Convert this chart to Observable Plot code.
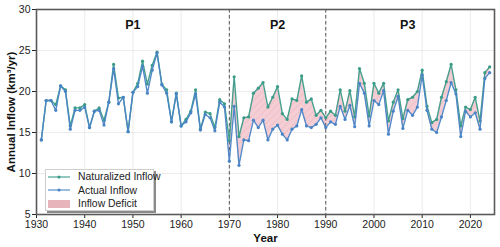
<!DOCTYPE html>
<html>
<head>
<meta charset="utf-8">
<script src="https://cdn.jsdelivr.net/npm/d3@7"></script>
<script src="https://cdn.jsdelivr.net/npm/@observablehq/plot@0.6"></script>
<style>
  html, body { margin: 0; padding: 0; background: #fff; }
  #wrap { position: relative; width: 500px; height: 247px; font-family: "Liberation Sans", Arial, sans-serif; }
  #legend {
    position: absolute; left: 45px; top: 169px; width: 109px; height: 42px;
    background: #fff; border: 1px solid #cfcfcf; box-shadow: 2px 2px 0 #8a8a8a;
    font-size: 10.4px; color: #222; box-sizing: border-box;
  }
  .row { position: absolute; left: 0; height: 13px; display: flex; align-items: center; }
  .row svg { margin-left: 2px; }
  .row span { margin-left: 8px; white-space: nowrap; }
</style>
</head>
<body>
<div id="wrap">
  <div id="chart"></div>
  <div id="legend">
    <div class="row" style="top:0px"><svg width="22" height="10"><line x1="0" y1="5" x2="22" y2="5" stroke="#3a9c88" stroke-width="1.3" stroke-opacity="0.85"/><circle cx="11" cy="5" r="1.6" fill="#3a9c88"/></svg><span>Naturalized Inflow</span></div>
    <div class="row" style="top:13.5px"><svg width="22" height="10"><line x1="0" y1="5" x2="22" y2="5" stroke="#4a84c6" stroke-width="1.3" stroke-opacity="0.85"/><circle cx="11" cy="5" r="1.6" fill="#4a84c6"/></svg><span>Actual Inflow</span></div>
    <div class="row" style="top:27px"><svg width="22" height="10"><rect x="0" y="1" width="22" height="8" fill="#e8b4bc"/></svg><span>Inflow Deficit</span></div>
  </div>
</div>
<script>
// Annual inflow record, 1931–2024 (km³/yr)
const years = d3.range(1931, 2025);

const naturalized = [
  14.1, 18.9, 18.9, 18.4, 20.7, 20.2, 15.8, 18.0, 18.0, 18.4, // 1931–1940
  15.6, 17.6, 18.0, 16.5, 18.7, 23.3, 19.2, 19.3, 15.1, 19.9, // 1941–1950
  21.0, 23.7, 20.9, 23.2, 24.8, 20.9, 20.2, 16.3, 19.8, 15.8, // 1951–1960
  16.6, 17.6, 20.2, 15.4, 17.5, 17.3, 15.6, 19.0, 18.5, 14.0, // 1961–1970
  21.8, 14.5, 16.8, 16.9, 19.8, 20.4, 21.1, 18.1, 19.3, 20.6, // 1971–1980
  17.3, 16.6, 19.1, 18.9, 21.9, 18.7, 19.1, 17.1, 17.7, 16.8, // 1981–1990
  17.6, 17.1, 20.2, 17.6, 20.1, 16.9, 22.8, 21.0, 17.0, 21.0, // 1991–2000
  19.8, 21.0, 16.4, 18.7, 20.2, 16.7, 19.0, 19.3, 20.0, 22.6, // 2001–2010
  18.2, 16.2, 16.6, 19.3, 21.2, 23.3, 20.2, 15.8, 18.1, 17.8, // 2011–2020
  19.3, 16.4, 22.3, 23.0                                      // 2021–2024
];

const actual = [
  14.1, 18.9, 18.9, 17.7, 20.7, 20.0, 15.4, 17.7, 17.7, 18.1, // 1931–1940
  15.6, 17.6, 17.7, 15.9, 18.7, 22.8, 18.5, 19.3, 15.1, 19.9, // 1941–1950
  20.6, 23.1, 19.8, 22.6, 24.7, 20.8, 19.8, 16.3, 19.7, 15.8, // 1951–1960
  16.3, 17.4, 19.7, 15.3, 17.2, 16.8, 15.2, 18.7, 18.1, 11.5, // 1961–1970
  18.2, 11.0, 14.1, 14.0, 16.5, 15.6, 16.5, 14.1, 15.4, 15.9, // 1971–1980
  14.8, 14.1, 15.4, 15.8, 17.8, 15.8, 15.6, 16.0, 16.8, 15.6, // 1981–1990
  16.3, 16.0, 18.2, 16.6, 18.3, 15.7, 21.0, 19.8, 15.8, 18.9, // 1991–2000
  18.4, 20.1, 14.8, 17.6, 19.4, 15.5, 17.7, 17.1, 18.1, 22.0, // 2001–2010
  17.7, 15.4, 15.0, 16.9, 18.9, 21.1, 19.7, 14.5, 17.6, 16.9, // 2011–2020
  17.4, 15.4, 21.6, 22.3                                      // 2021–2024
];

// Period boundaries and labels
const breaks = [1970, 1990];
const periods = ["P1", "P2", "P3"];
const periodCenters = [1950, 1980, 2007];

const rows = years.map((year, i) => ({year, nat: naturalized[i], act: actual[i]}));
const deficitRows = rows.filter(d => d.year >= breaks[0]);
const periodRows = periods.map((p, i) => ({label: p, year: periodCenters[i]}));

const green = "#3a9c88";
const blue = "#4a84c6";

const chart = Plot.plot({
  width: 500,
  height: 247,
  marginLeft: 36,
  marginRight: 6,
  marginTop: 9,
  marginBottom: 33,
  style: {fontFamily: "'Liberation Sans', Arial, sans-serif", fontSize: "10.5px", color: "#222", background: "#fff"},
  x: {domain: [1930, 2025]},
  y: {domain: [5, 30]},
  marks: [
    Plot.gridX({ticks: d3.range(1930, 2030, 10), stroke: "#e4e4e4", strokeOpacity: 1, strokeWidth: 0.7}),
    Plot.gridY({ticks: d3.range(5, 31, 5), stroke: "#e4e4e4", strokeOpacity: 1, strokeWidth: 0.7}),
    Plot.areaY(deficitRows, {x: "year", y1: "act", y2: "nat", fill: "#f3c9cf", fillOpacity: 0.9}),
    Plot.areaY(deficitRows, {x: "year", y1: "act", y2: "nat", fill: "url(#deficit-hatch)"}),
    Plot.ruleX(breaks, {stroke: "#555", strokeWidth: 1, strokeDasharray: "3.5,2.5"}),
    Plot.line(rows, {x: "year", y: "nat", stroke: green, strokeWidth: 1.4, strokeOpacity: 0.95}),
    Plot.dot(rows, {x: "year", y: "nat", fill: green, r: 1.6}),
    Plot.line(rows, {x: "year", y: "act", stroke: blue, strokeWidth: 1.4, strokeOpacity: 0.95}),
    Plot.dot(rows, {x: "year", y: "act", fill: blue, r: 1.6}),
    Plot.text(periodRows, {x: "year", y: 28.1, text: "label", fontWeight: "bold", fontSize: 12.5, fill: "#111"}),
    Plot.axisX({ticks: d3.range(1930, 2030, 10), tickFormat: "d", tickSize: 4, tickPadding: 2, fontSize: 10.5, label: null}),
    Plot.axisY({ticks: d3.range(5, 31, 5), tickSize: 4, tickPadding: 2, fontSize: 10.5, label: null}),
    Plot.frame({stroke: "#5a5a5a", strokeWidth: 1.6}),
    Plot.text(["Annual Inflow (km³/yr)"], {frameAnchor: "left", textAnchor: "middle", lineAnchor: "middle", dx: -25, rotate: -90, fontWeight: "bold", fontSize: 11.5, fill: "#111"}),
    Plot.text(["Year"], {frameAnchor: "bottom", textAnchor: "middle", lineAnchor: "middle", dy: 24, fontWeight: "bold", fontSize: 11.5, fill: "#111"})
  ]
});

// Diagonal hatch used by the deficit band
const svg = d3.select(chart);
const defs = svg.insert("defs", ":first-child");
const pat = defs.append("pattern")
  .attr("id", "deficit-hatch")
  .attr("patternUnits", "userSpaceOnUse")
  .attr("width", 5).attr("height", 5)
  .attr("patternTransform", "rotate(45)");
pat.append("line")
  .attr("x1", 0).attr("y1", 0).attr("x2", 0).attr("y2", 5)
  .attr("stroke", "#e59aa7").attr("stroke-width", 0.8).attr("stroke-opacity", 0.7);

document.getElementById("chart").appendChild(chart);
</script>
</body>
</html>
